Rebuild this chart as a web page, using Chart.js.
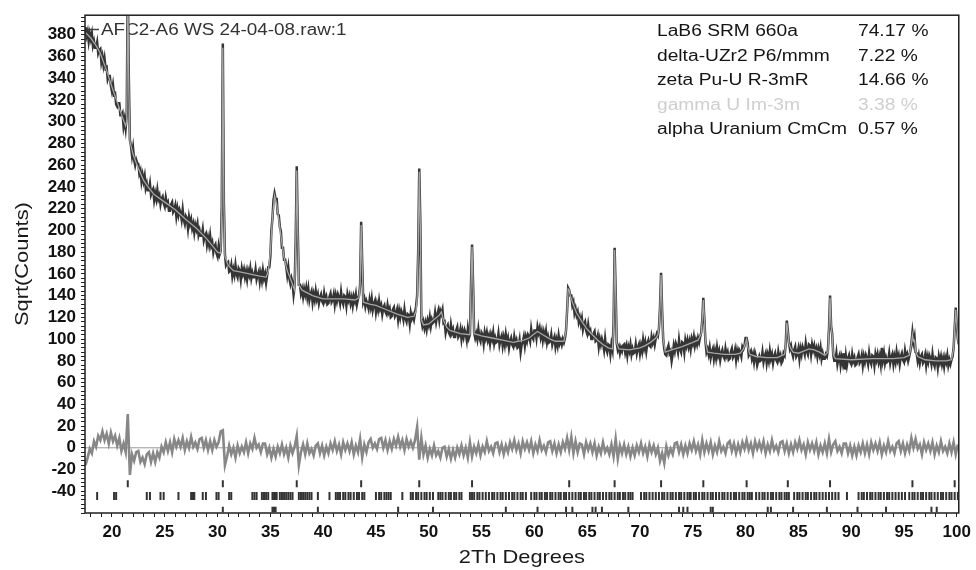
<!DOCTYPE html>
<html>
<head>
<meta charset="utf-8">
<script src="https://cdn.jsdelivr.net/npm/chart.js@4.4.1/dist/chart.umd.min.js"></script>
<style>
  html, body { margin: 0; padding: 0; background: #fff; }
  canvas { display: block; }
</style>
</head>
<body>
<canvas id="xrd" width="976" height="570"></canvas>
<script>
// ---- Scan: sqrt(counts) sampled every 0.1 deg 2-theta, from 17.5 ----
const scanStart = 17.5;
const scanStep = 0.1;
const observed = [
  387,379,383,374,381,376,381,370,374,368,
  368,373,363,366,367,355,360,352,358,349,
  350,339,342,342,333,328,334,325,326,316,
  314,317,317,306,306,308,296,302,294,305,
  430,340,283,278,269,276,265,260,265,262,
  261,252,255,245,251,245,250,239,243,237,
  237,243,233,236,238,228,234,229,237,229,
  232,224,229,231,225,222,230,224,226,218,
  218,224,226,217,219,223,213,220,214,219,
  216,210,219,210,206,213,211,202,212,206,
  210,202,206,198,205,201,206,196,200,195,
  195,201,191,195,197,187,193,187,195,186,
  189,180,185,187,179,176,185,178,181,222,
  372,226,178,168,170,171,162,163,168,158,
  164,159,168,160,157,165,163,155,165,160,
  164,157,162,155,163,159,165,156,161,157,
  157,164,155,159,162,153,160,154,163,156,
  160,152,159,166,166,176,200,211,228,234,
  229,229,215,214,203,199,184,184,173,173,
  167,159,166,156,151,156,152,141,149,190,
  259,200,150,150,142,146,139,146,141,147,
  139,146,136,141,144,134,141,136,144,137,
  141,133,138,141,135,133,142,136,139,132,
  133,139,142,134,136,141,132,140,135,141,
  138,133,143,135,132,140,139,131,141,136,
  140,133,138,131,139,135,141,132,137,140,
  150,208,170,134,137,130,135,132,128,136,
  130,137,127,132,135,125,132,127,135,128,
  131,123,129,131,125,123,131,125,128,120,
  121,127,129,121,123,127,118,126,120,126,
  123,118,127,119,116,123,122,114,124,119,
  122,118,124,130,140,180,257,210,118,112,
  116,110,115,109,117,113,120,112,118,115,
  116,124,116,122,126,118,126,123,127,115,
  116,106,111,113,106,104,113,106,109,102,
  102,108,111,102,104,109,100,107,102,108,
  105,99,109,101,104,150,187,150,106,101,
  105,100,109,101,98,106,104,96,106,101,
  106,99,103,96,104,100,106,96,101,97,
  98,105,95,100,103,94,101,95,104,97,
  101,92,98,101,95,93,102,96,99,92,
  93,99,88,95,97,102,94,102,98,104,
  102,98,109,102,100,108,108,101,111,106,
  110,102,107,99,106,101,107,97,102,97,
  98,104,95,99,102,93,99,94,103,96,
  99,95,100,97,101,108,126,147,145,140,
  140,131,134,124,128,122,125,116,120,114,
  119,109,114,116,108,105,113,106,108,100,
  100,105,107,98,99,103,93,100,95,100,
  96,90,100,91,88,95,94,86,95,90,
  114,184,144,96,90,93,87,92,89,94,
  95,88,93,85,93,89,95,86,91,87,
  88,95,87,92,95,87,94,89,99,92,
  97,89,96,99,94,93,102,97,101,95,
  101,105,103,110,130,161,126,100,91,86,
  85,91,94,87,89,80,86,94,89,96,
  93,88,99,91,88,97,96,88,99,94,
  99,93,98,91,100,96,102,94,99,95,
  101,97,102,106,118,138,118,98,88,91,
  86,92,83,88,91,82,89,83,92,85,
  89,81,87,90,84,82,91,85,88,81,
  82,88,91,83,85,90,81,89,84,90,
  88,84,93,91,94,101,101,96,85,87,
  89,82,86,79,87,83,76,80,84,80,
  81,88,79,84,87,78,85,80,89,82,
  86,78,84,87,81,79,88,82,85,78,
  80,87,85,95,117,108,97,91,94,88,
  84,90,93,84,86,91,82,91,86,93,
  90,86,96,89,86,95,94,86,95,90,
  94,87,91,84,91,86,92,82,87,82,
  82,86,84,90,110,140,112,105,86,80,
  80,87,77,82,85,76,83,78,87,72,
  84,76,82,85,79,77,86,80,83,76,
  77,83,86,78,80,85,76,84,79,85,
  82,77,87,80,77,85,84,76,86,81,
  86,79,84,77,92,81,87,78,83,79,
  80,87,78,83,86,77,84,79,88,81,
  85,77,84,87,81,79,89,83,86,80,
  84,89,96,106,97,102,88,87,80,85,
  78,84,86,78,80,85,76,84,79,85,
  82,77,86,78,75,83,82,74,84,79,
  84,77,82,75,83,79,85,76,81,77,
  81,84,92,110,129,112,100,95
];

// ---- Refined (calculated) profile ----
const calcAngles = [
  17.5,18.0,18.5,18.9,19.5,20.0,20.5,21.0,21.3,21.4,
  21.5,21.6,21.7,22.0,22.3,22.6,23.0,23.5,24.0,25.0,
  26.0,27.0,28.0,29.0,29.5,30.0,30.3,30.4,30.5,30.6,
  30.7,31.0,31.5,32.0,33.0,34.0,34.6,34.8,35.0,35.2,
  35.4,35.6,35.8,36.0,36.3,36.6,37.0,37.3,37.4,37.5,
  37.6,37.7,38.0,39.0,40.0,41.0,42.0,43.0,43.4,43.5,
  43.6,43.7,43.8,44.5,45.0,46.0,47.0,48.0,48.6,48.8,
  48.9,49.0,49.1,49.2,49.3,49.5,50.0,50.5,51.0,51.2,
  51.4,51.7,52.0,53.0,53.9,54.0,54.1,54.2,54.3,55.0,
  56.0,57.0,58.0,59.0,59.5,60.0,60.3,60.8,61.5,62.0,
  62.8,63.0,63.1,63.2,63.3,63.4,63.6,64.0,64.5,65.0,
  65.5,66.0,66.5,67.0,67.4,67.5,67.6,67.7,67.8,68.0,
  69.0,70.0,70.5,71.0,71.5,71.7,71.8,71.9,72.0,72.1,
  72.2,72.4,73.0,74.0,75.0,75.5,75.8,75.9,76.0,76.1,
  76.2,76.4,77.0,78.0,79.0,79.5,79.8,80.0,80.1,80.2,
  80.4,81.0,82.0,83.0,83.7,83.8,83.9,84.0,84.1,84.3,
  84.5,85.0,85.5,86.0,86.5,87.0,87.5,87.8,87.9,88.0,
  88.1,88.2,88.3,88.5,90.0,92.0,94.0,95.0,95.5,95.7,
  95.8,95.9,96.0,96.1,96.3,97.0,98.0,99.0,99.5,99.7,
  99.8,99.9,100.0,100.1,100.2
];
const calcValues = [
  382,377,370,363,347,332,318,304,296,300,
  425,330,282,270,262,255,246,239,233,226,
  219,210,202,192,186,180,179,220,368,225,
  176,168,163,162,160,158,157,162,180,212,
  232,224,210,195,175,163,153,145,185,255,
  198,150,145,140,137,137,137,136,138,150,
  205,168,134,132,131,127,123,120,121,126,
  138,180,254,205,118,113,114,118,122,125,
  117,111,108,105,104,148,185,148,105,103,
  101,99,97,99,101,105,107,104,100,98,
  98,108,126,146,145,140,134,124,116,109,
  104,99,95,92,91,112,182,143,96,91,
  90,92,94,97,101,104,110,130,159,126,
  100,88,90,93,97,99,105,118,136,118,
  98,88,87,86,86,87,91,97,100,93,
  86,84,83,83,86,95,115,107,96,91,
  88,87,89,91,90,88,85,88,110,138,
  112,104,86,82,81,82,82,83,85,95,
  104,98,99,89,84,81,80,80,81,91,
  110,127,112,100,95
];

// ---- Difference (observed - calculated), every 0.2 deg from 17.5 ----
const diffStart = 17.5;
const diffStep = 0.2;
const difference = [
  -16,-9,-1,-5,6,  1,11,7,15,7,  13,4,14,6,11,  2,9,-3,4,-4,
  31,-25,-6,-12,-4,  -3,-13,-9,-15,-6,  -4,-13,-5,-13,-4,  -9,1,-4,5,-3,
  5,-4,8,1,7,  1,9,-2,6,0,  10,1,5,-1,8,  9,0,7,-2,6,
  -2,7,1,5,15,  16,-16,-8,2,-6,  0,-9,2,-5,1,  -4,5,-5,4,-1,
  9,0,3,-4,4,  4,-6,0,-9,-1,  -8,1,-5,3,-6,  0,-9,2,-5,1,
  11,-16,-4,3,-6,  4,-5,-1,-7,2,  4,-5,2,-7,1,  -5,4,-2,6,-3,
  3,-6,5,-2,4,  -3,5,-6,2,-4,  8,-9,3,-4,5,  8,0,4,-1,8,
  9,0,7,-2,6,  -1,8,2,10,1,  7,-2,8,1,6,  0,7,19,-11,9,
  -6,2,-9,-1,-7,  2,-7,-3,-9,0,  1,-8,-1,-10,-2,  -9,0,-6,2,-7,
  0,-9,5,-8,1,  -5,3,-7,1,-4,  6,-3,1,-5,4,  5,-4,3,-6,2,
  -4,5,-1,7,-2,  4,-5,6,-1,5,  -2,6,-5,3,-3,  7,-2,2,-4,5,
  6,-3,4,-5,3,  -4,5,-1,9,-2,  10,-5,6,-4,4,  3,-6,5,-2,4,
  -4,4,-7,1,-5,  5,-4,0,-6,3,  -8,8,-10,2,-5,  3,-6,1,-8,0,
  -7,2,-4,4,-5,  1,-8,3,-4,2,  -6,0,-12,-5,-14,  1,-7,-1,-6,4,
  5,-4,3,-6,2,  -5,4,-2,6,-3,  3,-6,7,-4,4,  -3,5,-6,2,-4,
  6,-3,1,-5,4,  6,-3,4,-5,3,  -4,5,-1,7,-2,  4,-5,6,-1,5,
  -2,6,-5,3,-3,  7,-2,2,-4,5,  6,-3,4,-5,3,  -4,5,-1,7,-2,
  3,-6,5,-2,4,  -3,5,-6,2,-4,  4,-5,8,-4,3,  6,-3,1,-5,4,
  4,-5,2,-7,1,  -7,2,-4,4,-5,  3,-6,5,-2,4,  -3,5,-6,2,-4,
  6,-3,1,-5,4,  6,-3,4,-5,3,  -3,9,0,8,-1,  3,-6,5,-2,4,
  -3,5,-6,2,-4,  6,-3,1,-5,4,  -4,5,-6,3
];

// ---- Reflection positions (deg 2-theta) ----
const reflectionsLaB6 = [21.5,30.5,37.5,43.6,49.1,54.1,63.3,67.6,72.0,76.0,80.1,84.0,88.0,95.8,99.8];
const reflectionsMain = [
  18.6,20.2,20.4,23.3,23.6,24.6,24.9,26.3,27.5,27.6,27.7,27.8,28.6,28.9,29.9,30.1,31.1,31.3,
  33.3,33.5,33.7,34.2,34.4,34.6,34.8,35.2,35.35,35.5,35.6,35.9,36.1,36.3,36.5,36.7,36.9,37.1,
  37.7,37.9,38.1,38.3,38.5,38.7,38.9,39.5,
  40.6,41.2,41.4,41.6,41.9,42.1,42.4,42.6,42.9,43.2,43.4,43.7,43.9,
  45.0,45.3,45.5,45.8,46.0,46.2,46.4,
  47.5,48.3,48.5,48.8,49.0,49.3,49.6,49.8,50.1,50.4,50.9,51.1,51.3,51.6,51.9,52.1,52.4,52.6,52.9,53.1,
  53.9,54.1,54.3,54.6,54.8,55.1,55.4,55.7,56.0,56.2,56.5,56.8,57.0,57.3,57.6,57.9,58.1,58.4,58.7,58.9,
  59.2,59.7,60.0,60.2,60.5,60.7,61.0,61.2,61.5,61.7,62.0,62.3,62.5,62.8,63.0,63.3,63.6,63.9,64.2,64.4,
  64.7,64.9,65.2,65.4,65.7,66.0,66.2,66.5,66.8,67.1,67.3,67.6,67.9,68.1,68.4,68.6,68.9,69.1,69.3,
  70.1,70.4,70.6,70.9,71.2,71.5,71.8,72.1,72.3,72.6,72.9,73.1,73.4,73.7,73.9,74.2,74.5,74.7,74.8,
  75.1,75.3,75.6,75.9,76.1,76.4,76.7,76.9,77.2,77.5,77.8,78.0,78.3,78.6,78.9,79.1,79.4,79.7,79.9,
  80.2,80.4,80.6,81.0,81.3,81.6,81.8,82.1,82.4,82.6,82.9,83.2,83.4,83.7,83.9,84.1,84.6,84.9,85.1,
  85.4,85.7,85.9,86.2,86.5,86.7,87.0,87.3,87.6,87.9,88.2,88.5,88.8,89.6,90.7,91.0,91.2,91.5,91.8,
  92.0,92.3,92.6,92.8,93.1,93.4,93.6,93.9,94.2,94.5,94.8,95.1,95.5,95.8,96.0,96.3,96.6,96.8,97.1,
  97.4,97.6,97.9,98.2,98.5,98.7,99.0,99.3,99.5,99.8,100.1
];
const reflectionsLow = [30.5,35.2,35.35,35.5,39.5,47.1,50.4,57.3,60.3,63.0,63.6,65.5,65.8,66.4,68.9,
  73.7,74.1,74.5,76.7,76.9,82.1,82.4,84.5,87.7,90.6,93.3,97.6,98.1];

// ---- Phase quantification ----
const phaseNames = ['LaB6 SRM 660a', 'delta-UZr2 P6/mmm', 'zeta Pu-U R-3mR', 'gamma U Im-3m', 'alpha Uranium CmCm'];
const phasePercents = [74.17, 7.22, 14.66, 3.38, 0.57];
const scanName = 'AFC2-A6 WS 24-04-08.raw:1';

// ---- Axis labels ----
const xLabelValues = [20,25,30,35,40,45,50,55,60,65,70,75,80,85,90,95,100];
const yLabelValues = [-40,-20,0,20,40,60,80,100,120,140,160,180,200,220,240,260,280,300,320,340,360,380];

// ---- Styling ----
const phaseTextColors = ['#151515', '#151515', '#151515', '#cfcfcf', '#151515'];
const textFamily = '"Liberation Sans", Arial, Helvetica, sans-serif';

const onGrid = (start, step, values) =>
  values.map((v, i) => ({ x: Math.round((start + i * step) * 100) / 100, y: v }));
const pairs = (xs, ys) => xs.map((x, i) => ({ x, y: ys[i] }));
const atLevel = (xs, level) => xs.map(x => ({ x, y: level }));

function stretchText(ctx, text, x, y, font, color, align, sx, rot) {
  ctx.save();
  ctx.translate(x, y);
  if (rot) ctx.rotate(rot);
  ctx.scale(sx, 1);
  ctx.font = font;
  ctx.fillStyle = color;
  ctx.textAlign = align;
  ctx.textBaseline = rot ? 'middle' : 'alphabetic';
  ctx.fillText(text, 0, 0);
  ctx.restore();
}

const decorations = {
  id: 'decorations',
  beforeDatasetsDraw(chart) {
    const ctx = chart.ctx;
    ctx.save();
    ctx.strokeStyle = '#444';
    ctx.lineWidth = 1.5;
    ctx.beginPath();
    ctx.moveTo(88, 29.5);
    ctx.lineTo(99, 29.5);
    ctx.stroke();
    ctx.restore();
    stretchText(ctx, scanName, 101, 35, '16px ' + textFamily, '#333', 'left', 1.18);
  },
  afterDraw(chart) {
    const ctx = chart.ctx;
    const a = chart.chartArea;
    ctx.save();
    ctx.strokeStyle = '#1e1e1e';
    ctx.lineWidth = 1.5;
    ctx.strokeRect(a.left, a.top, a.right - a.left, a.bottom - a.top);
    ctx.restore();

    phaseNames.forEach((name, i) => {
      const y = 36 + i * 24.5;
      stretchText(ctx, name, 657, y, '16px ' + textFamily, phaseTextColors[i], 'left', 1.2);
      stretchText(ctx, phasePercents[i].toFixed(2) + ' %', 858, y, '16px ' + textFamily, phaseTextColors[i], 'left', 1.2);
    });

    stretchText(ctx, '2Th Degrees', (a.left + a.right) / 2, 563, '19px ' + textFamily, '#1a1a1a', 'center', 1.15);
    stretchText(ctx, 'Sqrt(Counts)', 23, (a.top + a.bottom) / 2, '19px ' + textFamily, '#1a1a1a', 'center', 1.15, -Math.PI / 2);
  }
};

const tickFont = { family: textFamily, size: 17, weight: 'bold' };

new Chart(document.getElementById('xrd'), {
  type: 'scatter',
  data: {
    datasets: [
      {
        label: 'LaB6 reflections', data: atLevel(reflectionsLaB6, -33), order: 0,
        pointStyle: 'line', rotation: 90, pointRadius: 3.5, borderWidth: 2, borderColor: '#333', backgroundColor: '#333'
      },
      {
        label: 'Phase reflections', data: atLevel(reflectionsMain, -44.3), order: 0,
        pointStyle: 'line', rotation: 90, pointRadius: 4, borderWidth: 2, borderColor: '#333', backgroundColor: '#333'
      },
      {
        label: 'Minor reflections', data: atLevel(reflectionsLow, -56.8), order: 0,
        pointStyle: 'line', rotation: 90, pointRadius: 2.8, borderWidth: 2, borderColor: '#333', backgroundColor: '#333'
      },
      {
        label: 'Calculated', data: pairs(calcAngles, calcValues), order: 1,
        showLine: true, pointRadius: 0, borderWidth: 1.3, borderColor: '#a6a6a6'
      },
      {
        label: 'Observed', data: onGrid(scanStart, scanStep, observed), order: 2,
        showLine: true, pointRadius: 0, borderWidth: 2.5, borderColor: '#353535'
      },
      {
        label: 'Difference', data: onGrid(diffStart, diffStep, difference), order: 3,
        showLine: true, pointRadius: 0, borderWidth: 2.6, borderColor: '#878787'
      },
      {
        label: 'Zero', data: [{ x: 17.45, y: 0 }, { x: 100.19, y: 0 }], order: 4,
        showLine: true, pointRadius: 0, borderWidth: 1, borderColor: '#9a9a9a'
      }
    ]
  },
  options: {
    responsive: false,
    devicePixelRatio: 1,
    animation: false,
    events: [],
    parsing: false,
    layout: { padding: { left: 0, top: 12, right: 16, bottom: 0 } },
    plugins: { legend: { display: false }, tooltip: { enabled: false }, title: { display: false } },
    scales: {
      x: {
        type: 'linear', min: 17.45, max: 100.19,
        afterFit(s) { s.height = 57; },
        border: { display: false },
        grid: { drawOnChartArea: false, drawTicks: true, tickLength: 4, color: '#222', lineWidth: 1 },
        ticks: {
          stepSize: 1, includeBounds: false, autoSkip: false, maxRotation: 0, padding: 5,
          color: '#111', font: tickFont,
          callback: v => (xLabelValues.includes(v) ? String(v) : '')
        }
      },
      y: {
        type: 'linear', min: -60, max: 398,
        afterFit(s) { s.width = 85; },
        border: { display: false },
        grid: { drawOnChartArea: false, drawTicks: true, tickLength: 4, color: '#222', lineWidth: 1 },
        ticks: {
          stepSize: 4, includeBounds: false, autoSkip: false, padding: 5,
          color: '#111', font: tickFont,
          callback: v => (yLabelValues.includes(v) ? String(v) : '')
        }
      }
    }
  },
  plugins: [decorations]
});
</script>
</body>
</html>
